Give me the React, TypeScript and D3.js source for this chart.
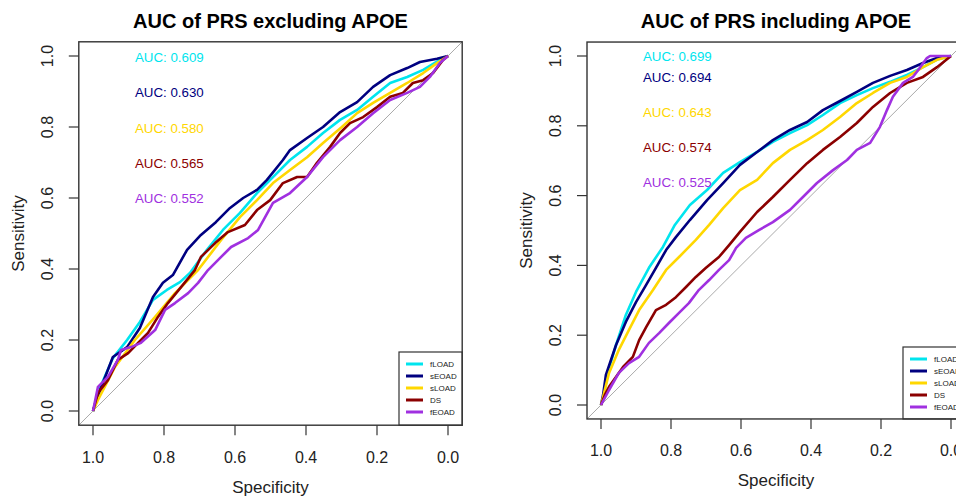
import React from "react";
import * as d3 from "d3";

// legend / series order
const seriesNames = ["fLOAD", "sEOAD", "sLOAD", "DS", "fEOAD"];
const seriesColors = ["#00E5EE", "#000080", "#FFD700", "#8B0000", "#A030E0"];
const ticks = [1.0, 0.8, 0.6, 0.4, 0.2, 0.0];

// panel 1: PRS excluding APOE  ([specificity, sensitivity])
const exclAUC = ["0.609", "0.630", "0.580", "0.565", "0.552"];
const exclFLOAD = [
  [1, 0], [0.977, 0.073], [0.944, 0.149], [0.904, 0.2], [0.868, 0.251], [0.831, 0.313],
  [0.792, 0.341], [0.755, 0.363], [0.727, 0.389], [0.679, 0.454], [0.634, 0.51],
  [0.586, 0.558], [0.538, 0.614], [0.493, 0.659], [0.445, 0.707], [0.397, 0.744],
  [0.352, 0.783], [0.304, 0.82], [0.256, 0.848], [0.211, 0.885], [0.163, 0.924],
  [0.115, 0.941], [0.07, 0.961], [0.023, 0.989], [0, 1],
];
const exclSEOAD = [
  [1, 0], [0.98, 0.059], [0.944, 0.152], [0.904, 0.18], [0.868, 0.234], [0.831, 0.321],
  [0.803, 0.361], [0.775, 0.383], [0.735, 0.454], [0.696, 0.496], [0.654, 0.532],
  [0.614, 0.572], [0.577, 0.6], [0.538, 0.623], [0.51, 0.651], [0.465, 0.707],
  [0.445, 0.735], [0.397, 0.769], [0.352, 0.8], [0.304, 0.842], [0.256, 0.87],
  [0.211, 0.913], [0.163, 0.946], [0.115, 0.966], [0.079, 0.983], [0.031, 0.992], [0, 1],
];
const exclSLOAD = [
  [1, 0], [0.986, 0.031], [0.938, 0.124], [0.882, 0.2], [0.825, 0.265], [0.769, 0.332],
  [0.704, 0.397], [0.639, 0.482], [0.586, 0.546], [0.538, 0.594], [0.493, 0.642],
  [0.445, 0.679], [0.397, 0.715], [0.352, 0.755], [0.299, 0.8], [0.256, 0.839],
  [0.211, 0.868], [0.163, 0.896], [0.115, 0.924], [0.07, 0.952], [0.031, 0.98], [0, 1],
];
const exclDS = [
  [1, 0], [0.986, 0.051], [0.958, 0.087], [0.93, 0.144], [0.901, 0.163], [0.873, 0.192],
  [0.845, 0.22], [0.817, 0.265], [0.789, 0.304], [0.752, 0.349], [0.713, 0.397],
  [0.696, 0.434], [0.656, 0.473], [0.62, 0.504], [0.572, 0.524], [0.538, 0.566],
  [0.501, 0.594], [0.465, 0.642], [0.425, 0.659], [0.397, 0.659], [0.369, 0.699],
  [0.332, 0.744], [0.304, 0.783], [0.276, 0.811], [0.239, 0.828], [0.2, 0.856],
  [0.163, 0.885], [0.127, 0.896], [0.099, 0.924], [0.07, 0.932], [0.042, 0.952],
  [0.014, 0.989], [0, 1],
];
const exclFEOAD = [
  [1, 0], [0.986, 0.068], [0.958, 0.096], [0.93, 0.144], [0.921, 0.172], [0.893, 0.18],
  [0.865, 0.192], [0.825, 0.228], [0.797, 0.285], [0.769, 0.304], [0.732, 0.332],
  [0.704, 0.361], [0.676, 0.397], [0.639, 0.434], [0.611, 0.462], [0.563, 0.487],
  [0.535, 0.51], [0.493, 0.586], [0.445, 0.614], [0.397, 0.659], [0.352, 0.715],
  [0.304, 0.763], [0.256, 0.8], [0.211, 0.839], [0.163, 0.876], [0.115, 0.896],
  [0.079, 0.913], [0.051, 0.941], [0.023, 0.98], [0, 1],
];

// panel 2: PRS including APOE
const inclAUC = ["0.699", "0.694", "0.643", "0.574", "0.525"];
const inclFLOAD = [
  [1, 0], [0.994, 0.02], [0.977, 0.106], [0.957, 0.172], [0.929, 0.258], [0.9, 0.324],
  [0.863, 0.393], [0.823, 0.453], [0.789, 0.516], [0.746, 0.573], [0.697, 0.616],
  [0.651, 0.665], [0.603, 0.696], [0.554, 0.725], [0.509, 0.754], [0.46, 0.779],
  [0.411, 0.802], [0.366, 0.831], [0.317, 0.865], [0.269, 0.888], [0.223, 0.908],
  [0.174, 0.926], [0.126, 0.946], [0.08, 0.968], [0.04, 0.99], [0, 1],
];
const inclSEOAD = [
  [1, 0], [0.994, 0.029], [0.986, 0.086], [0.957, 0.172], [0.929, 0.238], [0.9, 0.295],
  [0.871, 0.344], [0.843, 0.393], [0.814, 0.444], [0.786, 0.481], [0.746, 0.53],
  [0.697, 0.587], [0.651, 0.636], [0.603, 0.688], [0.554, 0.725], [0.509, 0.759],
  [0.46, 0.788], [0.411, 0.811], [0.366, 0.845], [0.317, 0.871], [0.269, 0.897],
  [0.223, 0.923], [0.174, 0.943], [0.126, 0.96], [0.08, 0.98], [0.04, 0.994], [0, 1],
];
const inclSLOAD = [
  [1, 0], [0.994, 0.023], [0.977, 0.092], [0.949, 0.158], [0.92, 0.215], [0.891, 0.272],
  [0.851, 0.33], [0.814, 0.387], [0.777, 0.424], [0.729, 0.473], [0.691, 0.516],
  [0.651, 0.564], [0.603, 0.616], [0.554, 0.645], [0.509, 0.693], [0.46, 0.731],
  [0.411, 0.759], [0.366, 0.788], [0.317, 0.825], [0.269, 0.865], [0.223, 0.894],
  [0.174, 0.923], [0.126, 0.94], [0.08, 0.968], [0.04, 0.989], [0, 1],
];
const inclDS = [
  [1, 0], [0.989, 0.029], [0.977, 0.052], [0.937, 0.109], [0.909, 0.138], [0.891, 0.186],
  [0.871, 0.223], [0.843, 0.272], [0.814, 0.287], [0.786, 0.309], [0.757, 0.338],
  [0.729, 0.367], [0.7, 0.393], [0.663, 0.424], [0.634, 0.458], [0.603, 0.496],
  [0.554, 0.553], [0.509, 0.596], [0.46, 0.645], [0.411, 0.693], [0.366, 0.731],
  [0.317, 0.768], [0.269, 0.808], [0.223, 0.854], [0.174, 0.894], [0.126, 0.923],
  [0.08, 0.94], [0.04, 0.968], [0, 1],
];
const inclFEOAD = [
  [1, 0], [0.977, 0.043], [0.949, 0.092], [0.92, 0.12], [0.891, 0.138], [0.863, 0.178],
  [0.834, 0.206], [0.806, 0.235], [0.777, 0.264], [0.749, 0.292], [0.72, 0.33],
  [0.691, 0.358], [0.663, 0.387], [0.634, 0.415], [0.614, 0.45], [0.586, 0.479],
  [0.549, 0.501], [0.509, 0.524], [0.46, 0.559], [0.423, 0.596], [0.383, 0.636],
  [0.337, 0.673], [0.297, 0.702], [0.269, 0.731], [0.231, 0.751], [0.203, 0.797],
  [0.183, 0.845], [0.166, 0.883], [0.137, 0.923], [0.109, 0.94], [0.089, 0.966],
  [0.069, 0.994], [0.06, 1], [0, 1],
];

const FONT = "'Liberation Sans', Arial, Helvetica, sans-serif";

type Panel = {
  id: string;
  title: string;
  x0: number; x1: number; // pixel of spec 1.0 / 0.0
  y0: number; y1: number; // pixel of sens 0.0 / 1.0
  titleX: number;
  curves: number[][][];
  auc: string[];
  aucX: number;
  aucY: number[];
  legendX: number;
  legendY: number;
};

const panels: Panel[] = [
  {
    id: "p1", title: "AUC of PRS excluding APOE",
    x0: 93, x1: 448, y0: 411, y1: 56, titleX: 270.5,
    curves: [exclFLOAD, exclSEOAD, exclSLOAD, exclDS, exclFEOAD],
    auc: exclAUC, aucX: 135, aucY: [57, 92, 128, 163, 198],
    legendX: 399, legendY: 352,
  },
  {
    id: "p2", title: "AUC of PRS including APOE",
    x0: 601, x1: 951, y0: 405, y1: 56, titleX: 776,
    curves: [inclFLOAD, inclSEOAD, inclSLOAD, inclDS, inclFEOAD],
    auc: inclAUC, aucX: 643, aucY: [56, 77, 112, 147, 182],
    legendX: 903, legendY: 347,
  },
];

const RocPanel = ({ p }: { p: Panel }) => {
  const x = d3.scaleLinear().domain([1, 0]).range([p.x0, p.x1]);
  const y = d3.scaleLinear().domain([0, 1]).range([p.y0, p.y1]);
  const ext = 0.04;
  const left = x(1 + ext), right = x(-ext);
  const top = y(1 + ext), bottom = y(-ext);
  const line = d3.line<number[]>().x((d) => x(d[0])).y((d) => y(d[1]));
  const fmt = d3.format(".1f");
  const cx = (left + right) / 2;
  const cy = (top + bottom) / 2;

  return (
    <g fontFamily={FONT}>
      <defs>
        <clipPath id={"clip-" + p.id}>
          <rect x={left} y={top} width={right - left} height={bottom - top} />
        </clipPath>
      </defs>
      <text x={p.titleX} y={28} textAnchor="middle" fontSize={20} fontWeight="bold" fill="#000">
        {p.title}
      </text>

      {/* diagonal */}
      <line
        x1={x(1 + ext)} y1={y(-ext)} x2={x(-ext)} y2={y(1 + ext)}
        stroke="#aaaaaa" strokeWidth={1} clipPath={`url(#clip-${p.id})`}
      />

      {p.curves.map((c, i) => (
        <path key={i} d={line(c) || ""} fill="none" stroke={seriesColors[i]}
          strokeWidth={2.6} strokeLinejoin="round" clipPath={`url(#clip-${p.id})`} />
      ))}

      {p.auc.map((a, i) => (
        <text key={i} x={p.aucX} y={p.aucY[i] + 4.8} fontSize={13.3} fill={seriesColors[i]}>
          AUC: {a}
        </text>
      ))}

      {/* x axis */}
      {ticks.map((t) => (
        <g key={"x" + t}>
          <line x1={x(t)} x2={x(t)} y1={bottom} y2={bottom + 10} stroke="#333" strokeWidth={1.2} />
          <text x={x(t)} y={bottom + 37.5} textAnchor="middle" fontSize={16} fill="#222">{fmt(t)}</text>
        </g>
      ))}
      <text x={cx} y={bottom + 67.5} textAnchor="middle" fontSize={17} fill="#222">Specificity</text>

      {/* y axis */}
      {ticks.map((t) => (
        <g key={"y" + t}>
          <line x1={left - 10} x2={left} y1={y(t)} y2={y(t)} stroke="#333" strokeWidth={1.2} />
          <text transform={`translate(${left - 26},${y(t)}) rotate(-90)`} textAnchor="middle"
            fontSize={16} fill="#222">{fmt(t)}</text>
        </g>
      ))}
      <text transform={`translate(${left - 55},${cy}) rotate(-90)`} textAnchor="middle"
        fontSize={17} fill="#222">Sensitivity</text>

      {/* legend */}
      <rect x={p.legendX} y={p.legendY} width={right - p.legendX} height={bottom - p.legendY}
        fill="#fff" stroke="#333" strokeWidth={1.2} />
      {seriesNames.map((n, i) => (
        <g key={n}>
          <line x1={p.legendX + 7} x2={p.legendX + 24} y1={p.legendY + 12 + i * 12}
            y2={p.legendY + 12 + i * 12} stroke={seriesColors[i]} strokeWidth={3} />
          <text x={p.legendX + 31} y={p.legendY + 15 + i * 12} fontSize={8} fill="#222">{n}</text>
        </g>
      ))}

      <rect x={left} y={top} width={right - left} height={bottom - top}
        fill="none" stroke="#333" strokeWidth={1.4} />
    </g>
  );
};

export default function App() {
  return (
    <svg width={956} height={498} style={{ position: "absolute", left: 0, top: 0, background: "#fff" }}>
      <rect width={956} height={498} fill="#fff" />
      {panels.map((p) => <RocPanel key={p.id} p={p} />)}
    </svg>
  );
}
